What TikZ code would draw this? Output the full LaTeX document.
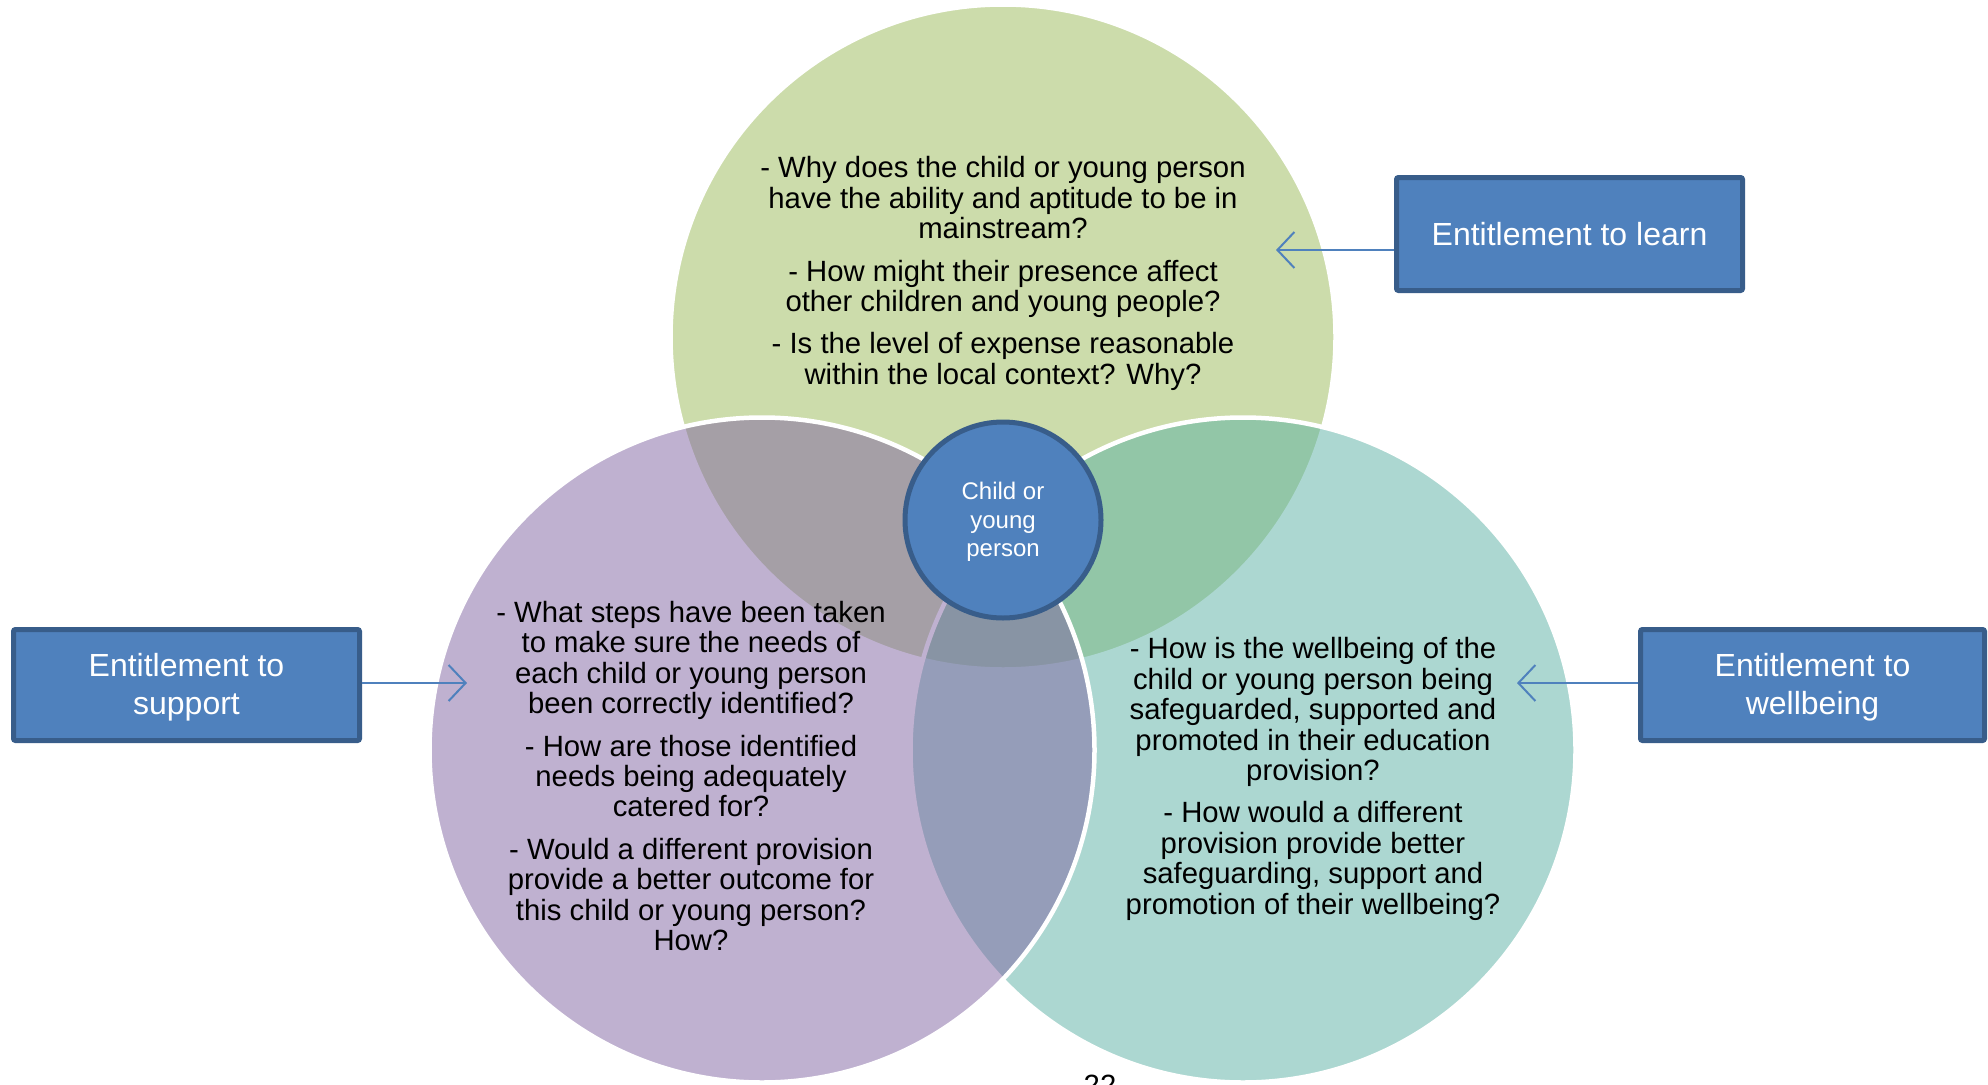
\documentclass[tikz,border=0pt]{standalone}
\usepackage{fontspec}
\setmainfont{Liberation Sans}
\usetikzlibrary{arrows.meta}
\definecolor{cgreen}{RGB}{155,187,89}
\definecolor{cpurple}{RGB}{128,100,162}
\definecolor{cteal}{RGB}{90,177,164}
\definecolor{boxfill}{RGB}{79,129,189}
\definecolor{boxline}{RGB}{56,93,138}
\begin{document}
\begin{tikzpicture}[x=1pt,y=-1pt,
  venn/.style={circle, minimum size=665pt, inner sep=0pt, fill opacity=0.5, draw=white, draw opacity=1, line width=4.5pt},
  qtext/.style={align=center, inner sep=0pt, text=black, font=\fontsize{29.3}{30.4}\selectfont},
  entbox/.style={rectangle, rounded corners=2pt, fill=boxfill, draw=boxline, line width=5pt, text=white, align=center, inner sep=0pt, font=\fontsize{32}{38}\selectfont},
  conn/.style={draw=boxfill, line width=2pt, -{Straight Barb[length=17pt,width=36pt,line width=2pt]}}
]
\useasboundingbox (0,0) rectangle (1988,1084);
\fill[white] (0,0) rectangle (1988,1084);
% Venn circles
\node[venn, fill=cgreen] (green) at (1003,337) {};
\node[venn, fill=cteal] (teal) at (1243,750) {};
\node[venn, fill=cpurple] (purple) at (762,750) {};
% centre
\node[circle, minimum size=196pt, inner sep=0pt, fill=boxfill, draw=boxline, line width=5pt, text=white, align=center, font=\fontsize{24}{28.7}\selectfont] (child) at (1003,520) {};
\node[text=white, align=center, inner sep=0pt, font=\fontsize{24}{28.7}\selectfont] (childtxt) at (1003,522) {Child or\\young\\person};
% question texts
\node[qtext] (qlearn) at (1003,273.5) {- Why does the child or young person\\have the ability and aptitude to be in\\mainstream?\\[12pt]- How might their presence affect\\other children and young people?\\[12pt]- Is the level of expense reasonable\\within the local context? Why?};
\node[qtext] (qsupport) at (691,776) {- What steps have been taken\\to make sure the needs of\\each child or young person\\been correctly identified?\\[12pt]- How are those identified\\needs being adequately\\catered for?\\[12pt]- Would a different provision\\provide a better outcome for\\this child or young person?\\How?};
\node[qtext] (qwell) at (1313,779) {- How is the wellbeing of the\\child or young person being\\safeguarded, supported and\\promoted in their education\\provision?\\[12pt]- How would a different\\provision provide better\\safeguarding, support and\\promotion of their wellbeing?};
% boxes
\node[entbox, minimum width=346pt, minimum height=113pt] (learn) at (1569.5,234) {};
\node[text=white, inner sep=0pt, font=\fontsize{32}{38}\selectfont] (learntxt) at (1569.5,234) {Entitlement to learn};
\node[entbox, minimum width=346pt, minimum height=111pt] (support) at (186.5,685) {};
\node[text=white, align=center, inner sep=0pt, font=\fontsize{32}{38}\selectfont] (supporttxt) at (186.5,687.5) {Entitlement to\\support};
\node[entbox, minimum width=344pt, minimum height=111pt] (wellb) at (1812.5,685) {};
\node[text=white, align=center, inner sep=0pt, font=\fontsize{32}{38}\selectfont] (wellbtxt) at (1812.5,687.5) {Entitlement to\\wellbeing};
% arrows
\coordinate (tipL) at (1276,250);
\coordinate (tipS) at (467,683);
\coordinate (tipW) at (1517,683);
\draw[conn] (learn.west |- tipL) -- (tipL);
\draw[conn] (support.east |- tipS) -- (tipS);
\draw[conn] (wellb.west |- tipW) -- (tipW);
% page number
\node[anchor=north, inner sep=0pt, font=\fontsize{29.3}{30}\selectfont] (pnum) at (1100,1075) {22};
\end{tikzpicture}
\end{document}
